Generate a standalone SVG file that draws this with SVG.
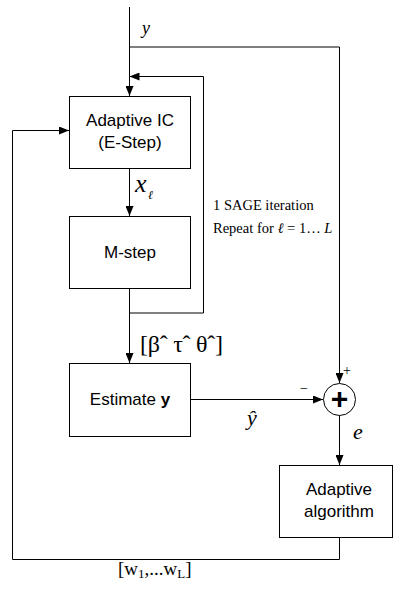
<svg xmlns="http://www.w3.org/2000/svg" width="393" height="590" viewBox="0 0 393 590">
<style>
.box{fill:#fff;stroke:#000;stroke-width:1}
.ln{fill:none;stroke:#000;stroke-width:1}
.t{font-family:"Liberation Sans",Arial,sans-serif;font-size:17px;fill:#000;text-anchor:middle}
.s{font-family:"Liberation Serif","Times New Roman",serif;fill:#000}
.i{font-style:italic}
</style>
<defs>
<marker id="ah" viewBox="0 0 10 8" refX="10" refY="4" markerWidth="10" markerHeight="8" markerUnits="userSpaceOnUse" orient="auto">
<path d="M0,0 L10,4 L0,8 Z" fill="#000"/>
</marker>
</defs>
<g id="connectors">
<path class="ln" d="M129.5,7 V96" marker-end="url(#ah)"/>
<path class="ln" d="M129.5,47 H339.5 V383" marker-end="url(#ah)"/>
<path class="ln" d="M129.5,168 V216" marker-end="url(#ah)"/>
<path class="ln" d="M129.5,288 V363" marker-end="url(#ah)"/>
<path class="ln" d="M129.5,313 H203.5 V76.5 H129.5" marker-end="url(#ah)"/>
<path class="ln" d="M190,399.5 H323" marker-end="url(#ah)"/>
<path class="ln" d="M339.5,415 V465" marker-end="url(#ah)"/>
<path class="ln" d="M339.5,537 V559.5 H12.5 V130.5 H69" marker-end="url(#ah)"/>
</g>
<g id="adaptive-ic">
<rect class="box" x="69.5" y="96.5" width="121" height="72"/>
<text class="t" x="130" y="126">Adaptive IC</text>
<text class="t" x="130" y="148">(E-Step)</text>
</g>
<g id="m-step">
<rect class="box" x="69.5" y="216.5" width="121" height="72"/>
<text class="t" x="130" y="258">M-step</text>
</g>
<g id="estimate-y">
<rect class="box" x="69.5" y="363.5" width="121" height="73"/>
<text class="t" x="130" y="405">Estimate <tspan font-weight="bold">y</tspan></text>
</g>
<g id="sum">
<circle class="box" cx="339.5" cy="399.5" r="16"/>
<text x="339.5" y="409" font-family="Liberation Sans,Arial,sans-serif" font-size="30" font-weight="bold" text-anchor="middle">+</text>
</g>
<g id="adaptive-algorithm">
<rect class="box" x="279.5" y="465.5" width="113" height="72"/>
<text class="t" x="339" y="495">Adaptive</text>
<text class="t" x="339" y="517">algorithm</text>
</g>
<g id="labels">
<text class="s i" x="142" y="34" font-size="18">y</text>
<text class="s i" x="135" y="192" font-size="26">x</text>
<text class="s i" x="148" y="199" font-size="12">ℓ</text>
<text class="s" x="213" y="210" font-size="14.5">1 SAGE iteration</text>
<text class="s" x="213" y="233" font-size="14.5">Repeat for <tspan class="i">ℓ</tspan> = 1… <tspan class="i">L</tspan></text>
<text class="s" x="140" y="352" font-size="24" textLength="83">[βˆ τˆ θˆ]</text>
<text class="s i" x="247" y="425" font-size="22">ŷ</text>
<text class="s" x="300" y="393" font-size="14">−</text>
<text class="s" x="343" y="375" font-size="14">+</text>
<text class="s i" x="353" y="439" font-size="22">e</text>
<text class="s" x="118" y="575" font-size="19">[w<tspan font-size="13" dy="3">1</tspan><tspan dy="-3">,...w</tspan><tspan font-size="13" dy="3">L</tspan><tspan dy="-3">]</tspan></text>
</g>
</svg>
